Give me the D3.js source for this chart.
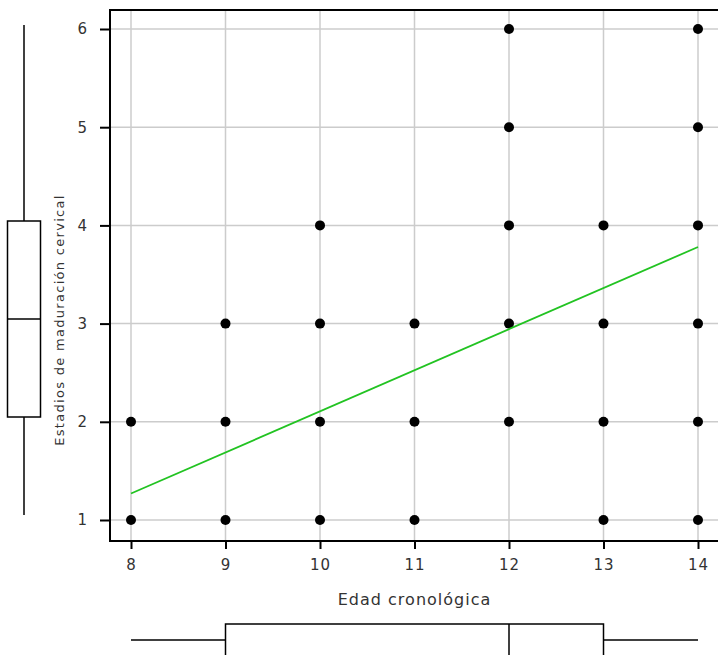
<!DOCTYPE html>
<html>
<head>
<meta charset="utf-8">
<script src="https://cdn.jsdelivr.net/npm/d3@7"></script>
<style>
  body { margin: 0; background: #fff; }
  text { font-family: "DejaVu Sans", sans-serif; fill: #333; }
</style>
</head>
<body>
<svg width="718" height="655"></svg>
<script>
// data
var ages = [8, 9, 10, 11, 12, 13, 14];
var stagesByAge = [
  [1, 2],
  [1, 2, 3],
  [1, 2, 3, 4],
  [1, 2, 3],
  [2, 3, 4, 5, 6],
  [1, 2, 3, 4],
  [1, 2, 3, 4, 5, 6]
];
var yTicks = [1, 2, 3, 4, 5, 6];
var fitLine = [[8, 1.27], [14, 3.78]];          // regression line end points
var boxStage = [1, 2, 3, 4, 6];                 // min, q1, median, q3, max
var boxAge = [8, 9, 12, 13, 14];

var svg = d3.select("svg");
var pLeft = 110, pTop = 10, pRight = 722, pBottom = 541;

var x = d3.scaleLinear().domain([8, 14]).range([131, 698]);
var y = d3.scaleLinear().domain([1, 6]).range([520, 29]);
var yBox = d3.scaleLinear().domain([1, 6]).range([515, 25]);

// grid
svg.append("g").selectAll("line").data(ages).enter().append("line")
    .attr("x1", function(d){ return x(d) }).attr("x2", function(d){ return x(d) })
    .attr("y1", pTop).attr("y2", pBottom)
    .attr("stroke", "#ccc").attr("stroke-width", 1.5);
svg.append("g").selectAll("line").data(yTicks).enter().append("line")
    .attr("y1", function(d){ return y(d) }).attr("y2", function(d){ return y(d) })
    .attr("x1", pLeft).attr("x2", pRight)
    .attr("stroke", "#ccc").attr("stroke-width", 1.5);

// frame
svg.append("rect")
    .attr("x", pLeft).attr("y", pTop)
    .attr("width", pRight - pLeft).attr("height", pBottom - pTop)
    .attr("fill", "none").attr("stroke", "#000").attr("stroke-width", 2);

// axes
var xAxis = svg.append("g").attr("transform", "translate(0," + pBottom + ")")
    .call(d3.axisBottom(x).tickValues(ages).tickSize(8).tickPadding(10).tickFormat(d3.format("d")));
var yAxis = svg.append("g").attr("transform", "translate(" + pLeft + ",0)")
    .call(d3.axisLeft(y).tickValues(yTicks).tickSize(10).tickPadding(12).tickFormat(d3.format("d")));
[xAxis, yAxis].forEach(function(a){
  a.select(".domain").remove();
  a.selectAll(".tick line").attr("stroke", "#000").attr("stroke-width", 2);
  a.selectAll("text").style("font-size", "15px").style("fill", "#333")
    .style("letter-spacing", "1px")
    .style("font-family", "'DejaVu Sans', sans-serif");
});

// points
var pts = [];
ages.forEach(function(a, i){ stagesByAge[i].forEach(function(s){ pts.push([a, s]) }) });
svg.append("g").selectAll("circle").data(pts).enter().append("circle")
    .attr("cx", function(d){ return x(d[0]) })
    .attr("cy", function(d){ return y(d[1]) })
    .attr("r", 5)
    .attr("fill", "#000");

// regression line
svg.append("path")
    .datum(fitLine)
    .attr("d", d3.line().x(function(d){ return x(d[0]) }).y(function(d){ return y(d[1]) }))
    .attr("stroke", "#22c322").attr("stroke-width", 1.8).attr("fill", "none");

// axis titles
svg.append("text")
    .attr("x", (x(8) + x(14)) / 2).attr("y", 605)
    .attr("text-anchor", "middle").style("font-size", "16px").style("letter-spacing", "1px")
    .text("Edad cronológica");
svg.append("text")
    .attr("transform", "translate(64,320) rotate(-90)")
    .attr("text-anchor", "middle").style("font-size", "13px").style("letter-spacing", "1.3px")
    .text("Estadios de maduración cervical");

// left boxplot
var bx = 24, bw = 33;
var lb = svg.append("g").attr("stroke", "#000").attr("stroke-width", 1.5).attr("fill", "none");
lb.append("line").attr("x1", bx).attr("x2", bx).attr("y1", yBox(boxStage[4])).attr("y2", yBox(boxStage[3]));
lb.append("line").attr("x1", bx).attr("x2", bx).attr("y1", yBox(boxStage[1])).attr("y2", yBox(boxStage[0]));
lb.append("rect").attr("x", bx - bw / 2).attr("width", bw)
    .attr("y", yBox(boxStage[3])).attr("height", yBox(boxStage[1]) - yBox(boxStage[3]));
lb.append("line").attr("x1", bx - bw / 2).attr("x2", bx + bw / 2)
    .attr("y1", yBox(boxStage[2])).attr("y2", yBox(boxStage[2]));

// bottom boxplot
var by = 624, wy = 640;
var bb = svg.append("g").attr("stroke", "#000").attr("stroke-width", 1.5).attr("fill", "none");
bb.append("line").attr("x1", x(boxAge[0])).attr("x2", x(boxAge[1])).attr("y1", wy).attr("y2", wy);
bb.append("line").attr("x1", x(boxAge[3])).attr("x2", x(boxAge[4])).attr("y1", wy).attr("y2", wy);
bb.append("rect").attr("x", x(boxAge[1])).attr("width", x(boxAge[3]) - x(boxAge[1]))
    .attr("y", by).attr("height", 60);
bb.append("line").attr("x1", x(boxAge[2])).attr("x2", x(boxAge[2])).attr("y1", by).attr("y2", 660);
</script>
</body>
</html>
